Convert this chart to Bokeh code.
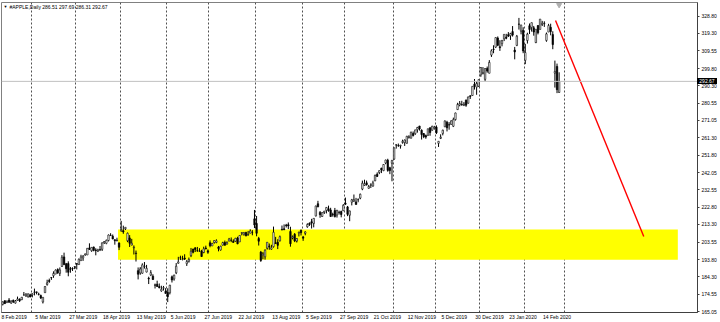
import pandas as pd
from bokeh.plotting import figure
from bokeh.layouts import column
from bokeh.models import FixedTicker, NumeralTickFormatter, Span, Label, Range1d, ColumnDataSource, Div
from bokeh.embed import file_html
from bokeh.resources import INLINE

title_text = "#APPLE,Daily  286.51 297.69 286.31 292.67"
first_day = "2019-02-08"
holidays = ["2019-02-18", "2019-04-19", "2019-05-27", "2019-07-04", "2019-09-02",
            "2019-11-28", "2019-12-25", "2020-01-01", "2020-01-20", "2020-02-17"]

# daily OHLC, one line per month (Feb 2019 from the 8th ... Feb 2020 to the 26th)
open_ = [
    168.99, 171.05, 170.10, 171.39, 169.71, 171.25, 169.71, 171.19, 171.80, 171.58, 174.16, 173.71, 173.21, 174.32,
    174.28, 175.69, 175.94, 174.67, 173.87, 170.32, 175.49, 180.00, 182.25, 183.90, 184.85, 185.80, 188.35, 186.23, 190.02, 195.34, 191.51, 191.66, 188.75, 188.95, 189.83,
    191.64, 191.09, 193.25, 194.79, 196.45, 196.42, 200.32, 198.68, 200.85, 199.20, 198.58, 199.46, 199.54, 203.12, 202.83, 204.43, 207.36, 206.83, 204.90, 204.40, 203.06,
    209.88, 209.84, 210.89, 204.29, 205.88, 201.90, 200.40, 197.42, 187.71, 186.41, 186.27, 189.91, 186.93, 183.52, 185.22, 184.66, 179.80, 180.20, 178.92, 176.42, 177.95, 176.23,
    175.60, 175.44, 184.28, 183.08, 186.51, 191.81, 194.86, 193.95, 194.70, 191.55, 192.90, 196.05, 199.68, 200.37, 198.80, 198.54, 198.43, 197.77, 200.29, 198.68,
    203.17, 201.41, 203.28, 203.35, 200.81, 199.20, 201.85, 203.31, 202.45, 204.09, 204.59, 204.05, 204.00, 205.79, 203.65, 208.46, 207.67, 208.89, 207.48, 208.46, 208.76, 216.42,
    213.90, 205.53, 197.99, 196.31, 195.41, 200.20, 201.30, 199.62, 201.02, 203.16, 203.46, 204.28, 210.62, 210.88, 212.99, 213.19, 209.43, 205.86, 207.86, 204.10, 208.50, 210.16,
    206.43, 208.39, 212.00, 214.05, 214.84, 213.86, 218.07, 224.80, 220.00, 217.73, 219.96, 221.06, 222.01, 221.38, 218.95, 221.03, 218.55, 220.00, 220.54, 220.90,
    225.07, 223.06, 218.43, 225.64, 226.27, 225.82, 227.03, 227.93, 232.95, 234.90, 236.39, 233.37, 235.09, 234.59, 237.52, 241.16, 242.10, 244.51, 243.16, 247.42, 248.97, 244.76, 247.24,
    249.54, 257.33, 257.05, 256.77, 258.74, 258.69, 258.30, 261.55, 261.13, 263.75, 263.68, 265.80, 267.90, 265.54, 263.69, 262.59, 262.71, 266.94, 265.58, 266.60,
    267.27, 258.31, 261.07, 263.79, 267.48, 270.00, 268.60, 268.81, 267.78, 271.46, 277.00, 279.57, 279.80, 279.50, 282.23, 280.53, 284.69, 284.82, 291.12, 289.46, 289.93,
    296.24, 297.15, 293.79, 299.84, 297.16, 307.24, 310.60, 311.64, 316.70, 311.85, 313.59, 316.27, 317.19, 318.58, 317.92, 320.25, 310.06, 312.60, 324.45, 320.54, 320.93,
    304.30, 315.31, 323.52, 322.57, 322.37, 314.18, 323.60, 321.47, 324.19, 324.74, 315.36, 320.00, 322.63, 318.62, 297.26, 300.95, 286.51,
]
high = [
    170.66, 171.21, 171.00, 172.48, 171.26, 171.70, 171.44, 173.32, 172.37, 173.00, 175.87, 175.30, 175.00, 174.91,
    175.15, 177.75, 176.00, 175.49, 174.44, 173.07, 179.12, 182.67, 183.30, 184.10, 187.33, 188.39, 188.99, 189.49, 196.33, 197.69, 191.98, 192.88, 189.76, 189.56, 190.08,
    191.68, 194.46, 196.50, 196.37, 197.10, 200.23, 202.85, 200.74, 201.00, 200.14, 199.85, 201.37, 203.38, 204.15, 204.94, 207.75, 208.48, 207.76, 205.00, 205.97, 203.40,
    215.31, 212.65, 211.84, 208.84, 207.42, 205.34, 201.68, 198.85, 189.48, 189.70, 191.75, 192.47, 190.90, 184.35, 188.00, 185.71, 180.54, 182.14, 180.59, 179.35, 179.23, 177.99,
    177.92, 179.83, 184.99, 185.47, 191.92, 195.37, 196.00, 195.97, 196.79, 193.59, 194.96, 200.29, 199.88, 200.61, 200.85, 200.16, 199.26, 200.99, 201.57, 199.49,
    204.49, 203.13, 204.44, 205.08, 201.40, 201.51, 203.73, 204.39, 204.00, 205.87, 206.11, 205.09, 205.88, 206.50, 207.23, 208.91, 209.15, 209.24, 209.73, 210.64, 210.16, 221.37,
    218.03, 206.43, 198.65, 198.07, 199.56, 203.53, 202.76, 202.05, 212.14, 206.44, 205.14, 207.16, 212.73, 213.35, 213.65, 214.44, 212.05, 207.19, 208.55, 205.72, 209.32, 210.45,
    206.98, 209.48, 213.97, 214.42, 216.44, 216.78, 223.71, 226.42, 220.79, 220.13, 220.82, 222.85, 223.76, 222.56, 219.84, 222.49, 221.50, 220.94, 220.96, 224.58,
    228.22, 223.58, 220.96, 227.49, 229.93, 228.06, 227.79, 230.44, 237.64, 238.13, 237.65, 235.24, 236.15, 237.58, 240.99, 242.20, 243.24, 244.80, 246.73, 249.25, 249.75, 245.30, 249.17,
    255.93, 257.85, 258.19, 257.49, 260.35, 260.44, 262.47, 262.79, 264.78, 264.88, 265.78, 267.43, 268.00, 266.08, 264.01, 263.18, 266.44, 267.16, 267.98, 268.00,
    268.25, 259.53, 263.31, 265.89, 271.00, 270.80, 270.07, 271.10, 272.56, 275.30, 280.79, 281.77, 281.90, 281.18, 282.65, 284.25, 284.89, 289.98, 293.97, 292.69, 293.68,
    300.60, 300.58, 299.96, 300.90, 304.44, 310.43, 312.67, 317.07, 317.57, 315.50, 315.70, 318.74, 319.02, 319.99, 319.56, 323.33, 311.77, 318.40, 327.85, 324.09, 322.68,
    313.49, 319.64, 324.76, 325.22, 323.40, 321.55, 323.90, 327.22, 326.22, 325.98, 319.75, 324.57, 324.65, 320.45, 304.18, 302.53, 297.69,
]
low = [
    168.42, 169.25, 169.70, 169.92, 169.38, 169.75, 169.49, 170.99, 170.30, 171.38, 173.95, 173.17, 172.73, 172.92,
    172.89, 173.97, 174.54, 173.94, 172.02, 169.50, 175.35, 179.37, 180.92, 182.56, 183.74, 185.79, 185.92, 184.73, 189.81, 190.78, 186.60, 184.58, 186.55, 187.53, 188.54,
    188.38, 191.05, 193.15, 193.14, 195.93, 196.34, 199.23, 198.18, 198.44, 196.21, 198.01, 198.56, 198.61, 202.52, 202.34, 203.90, 207.05, 205.12, 202.12, 203.86, 199.11,
    209.23, 208.13, 210.23, 203.50, 200.83, 201.75, 196.66, 192.77, 182.85, 185.41, 186.02, 188.84, 186.76, 180.28, 184.70, 182.55, 177.81, 178.62, 177.91, 176.00, 176.67, 174.99,
    170.27, 174.52, 181.14, 182.15, 185.77, 191.62, 193.60, 193.39, 193.60, 190.30, 192.17, 195.21, 197.31, 198.03, 198.15, 198.17, 195.29, 197.35, 199.57, 197.05,
    200.65, 201.36, 202.69, 202.90, 198.41, 198.81, 201.56, 201.71, 202.20, 204.00, 203.50, 203.27, 203.70, 202.36, 203.61, 207.29, 207.17, 206.73, 207.14, 208.44, 207.31, 211.30,
    206.74, 201.63, 192.58, 194.04, 193.82, 199.39, 199.29, 199.15, 200.48, 202.59, 199.67, 203.84, 210.03, 210.32, 211.60, 210.75, 201.00, 205.06, 203.53, 203.32, 206.66, 207.20,
    204.22, 207.32, 211.51, 212.51, 211.07, 211.71, 217.73, 222.86, 217.02, 217.56, 219.12, 219.44, 220.37, 217.47, 217.65, 217.19, 217.14, 218.83, 217.28, 220.79,
    224.20, 217.93, 215.13, 223.89, 225.84, 224.33, 225.64, 227.30, 232.31, 234.67, 234.88, 233.20, 233.52, 234.29, 237.32, 239.62, 241.22, 241.81, 242.88, 246.72, 242.57, 241.21, 237.26,
    249.16, 255.38, 256.32, 255.37, 258.11, 256.85, 258.28, 260.92, 261.07, 262.10, 263.01, 264.23, 265.39, 260.40, 261.18, 260.84, 262.52, 262.50, 265.31, 265.90,
    263.45, 256.29, 260.68, 262.73, 267.30, 264.91, 265.86, 268.50, 267.32, 270.93, 276.98, 278.80, 279.12, 278.95, 278.56, 280.37, 282.92, 284.70, 288.12, 285.22, 289.52,
    295.19, 296.50, 292.75, 297.48, 297.16, 306.20, 308.25, 311.15, 312.17, 309.55, 312.09, 315.00, 316.00, 317.31, 315.65, 317.52, 304.88, 312.19, 321.38, 318.75, 308.29,
    302.22, 313.63, 318.95, 320.26, 318.00, 313.85, 318.71, 321.47, 323.35, 322.85, 314.61, 320.00, 318.21, 310.50, 289.23, 286.13, 286.31,
]
close = [
    170.41, 169.43, 170.89, 170.18, 170.80, 170.42, 170.93, 172.03, 171.06, 172.97, 174.23, 174.33, 174.87, 173.15,
    174.97, 175.85, 175.53, 174.52, 172.50, 172.91, 178.90, 180.91, 181.71, 183.73, 186.12, 188.02, 186.53, 188.16, 195.09, 191.05, 188.74, 186.79, 188.47, 188.72, 189.95,
    191.24, 194.02, 195.35, 195.69, 197.00, 200.10, 199.50, 200.62, 198.95, 198.87, 199.23, 199.25, 203.13, 203.86, 204.53, 207.48, 207.16, 205.28, 204.30, 204.61, 200.67,
    210.52, 209.15, 211.75, 208.48, 202.86, 202.90, 200.72, 197.18, 185.72, 188.66, 190.92, 190.08, 189.00, 183.09, 186.60, 182.78, 179.66, 178.97, 178.23, 177.38, 178.30, 175.07,
    173.30, 179.64, 182.54, 185.22, 190.15, 192.58, 194.81, 194.19, 194.15, 192.74, 193.89, 198.45, 197.87, 199.46, 198.78, 198.58, 195.57, 199.80, 199.74, 197.92,
    201.55, 202.73, 204.41, 204.23, 200.02, 201.24, 203.23, 201.75, 203.30, 205.21, 204.50, 203.35, 205.66, 202.59, 207.22, 208.84, 208.67, 207.02, 207.74, 209.68, 208.78, 213.04,
    208.43, 204.02, 193.34, 197.00, 199.04, 203.43, 200.99, 200.48, 208.97, 202.75, 201.74, 206.50, 210.35, 210.36, 212.64, 212.46, 202.64, 206.49, 204.16, 205.53, 209.01, 208.74,
    205.70, 209.19, 213.28, 213.26, 214.17, 216.70, 223.59, 223.09, 218.75, 219.90, 220.70, 222.77, 220.96, 217.73, 218.72, 217.68, 221.03, 219.89, 218.82, 223.97,
    224.59, 218.96, 220.82, 227.01, 227.06, 224.40, 227.03, 230.09, 236.21, 235.87, 235.32, 234.37, 235.28, 236.41, 240.51, 239.96, 243.18, 243.58, 246.58, 249.05, 243.29, 243.26, 248.76,
    255.82, 257.50, 257.13, 257.24, 259.43, 260.14, 262.20, 261.96, 264.47, 262.64, 265.76, 267.10, 266.29, 263.19, 262.01, 261.78, 266.37, 264.29, 267.84, 267.25,
    264.16, 259.45, 261.74, 265.58, 270.71, 266.92, 268.48, 270.77, 271.46, 275.15, 279.86, 280.41, 279.74, 280.02, 279.44, 284.00, 284.27, 289.91, 289.80, 291.52, 293.65,
    300.35, 297.43, 299.80, 298.39, 303.19, 309.63, 310.33, 316.96, 312.68, 311.34, 315.24, 318.73, 316.57, 317.70, 319.23, 318.31, 308.95, 317.69, 324.34, 323.87, 309.51,
    308.66, 318.85, 321.45, 325.21, 320.03, 321.55, 319.61, 327.20, 324.87, 324.95, 319.00, 323.62, 320.30, 313.05, 298.18, 288.08, 292.67,
]

date_labels = ["8 Feb 2019", "5 Mar 2019", "27 Mar 2019", "18 Apr 2019", "13 May 2019", "5 Jun 2019",
               "27 Jun 2019", "22 Jul 2019", "13 Aug 2019", "5 Sep 2019", "27 Sep 2019", "21 Oct 2019",
               "12 Nov 2019", "5 Dec 2019", "30 Dec 2019", "23 Jan 2020", "14 Feb 2020"]
price_ticks = [328.80, 319.30, 309.55, 299.80, 290.30, 280.55, 271.05, 261.30, 251.80, 242.05,
               232.55, 222.80, 213.30, 203.55, 193.80, 184.30, 174.55, 165.05]
last_price = 292.67

# drawn objects (bar-index / price coordinates)
zone_left, zone_right = 54.5, 319.1
zone_low, zone_high = 193.7, 210.5
trend_x = [261.3, 303.0]
trend_y = [326.4, 206.6]

# ---- calendar -> bar index
cal = pd.bdate_range(first_day, "2020-03-02")
cal = cal[~cal.isin(pd.to_datetime(holidays))]
dates = cal[:len(close)]
assert len(dates) == len(close) == len(open_) == len(high) == len(low)
assert dates[-1] == pd.Timestamp("2020-02-26")
idx = list(range(len(close)))

FONT = "Liberation Sans"
FONT_PX = 5.0
X0, X1 = -0.57, 328.4
Y0, Y1 = 164.5, 336.4
W, H = 720, 322
BL, BR, BT, BB = 1, 23, 2, 10
px_per_bar = (W - BL - BR) / (X1 - X0)
px_per_price = (H - BT - BB) / (Y1 - Y0)

# Arial/Liberation advance widths (1/1000 em) -> label widths, so that the
# centred axis labels start at their bar, as on the MetaTrader time scale
ADV = {" ": 278, "A": 667, "D": 722, "F": 611, "J": 500, "M": 833, "N": 722, "O": 778, "S": 667,
       "a": 556, "b": 556, "c": 500, "e": 556, "g": 556, "l": 222, "n": 556, "o": 556, "p": 556,
       "r": 333, "t": 278, "u": 556, "v": 500, "y": 500}


def text_px(s):
    return sum(ADV.get(ch, 556) for ch in s) * FONT_PX / 1000.0


label_pos = [round(dates.get_loc(pd.to_datetime(s)) - 0.6 + text_px(s) / 2 / px_per_bar, 3)
             for s in date_labels]
grid_pos = [i - 0.5 for i in range(1, len(cal)) if cal[i].month != cal[i - 1].month]

up = [c >= o for o, c in zip(open_, close)]
src = ColumnDataSource(dict(
    x=idx, o=open_, h=high, l=low, c=close,
    top=[max(o, c) for o, c in zip(open_, close)],
    bot=[min(o, c) for o, c in zip(open_, close)],
    fill=["white" if u else "black" for u in up],
))

p = figure(width=W, height=H, output_backend="svg", toolbar_location=None,
           x_range=Range1d(X0, X1), y_range=Range1d(Y0, Y1),
           y_axis_location="right",
           min_border_left=BL, min_border_right=BR, min_border_top=BT, min_border_bottom=BB,
           background_fill_color="white", border_fill_color="white",
           outline_line_color="#808080", outline_line_width=1)

# grid
p.ygrid.visible = False
p.xgrid.ticker = FixedTicker(ticks=grid_pos)
p.xgrid.grid_line_color = "#505050"
p.xgrid.grid_line_dash = "2 2"
p.xgrid.grid_line_width = 1

# yellow zone (background object)
p.quad(left=[zone_left], right=[zone_right], bottom=[zone_low], top=[zone_high],
       fill_color="#ffff00", line_color=None)

# current price line
p.add_layout(Span(location=last_price, dimension="width", line_color="#c0c0c0", line_width=1))

# candles
p.segment(x0="x", y0="h", x1="x", y1="l", source=src, line_color="black", line_width=1)
p.vbar(x="x", width=0.7, top="top", bottom="bot", source=src,
       fill_color="fill", line_color="black", line_width=0.6)

# red trend line
p.line(trend_x, trend_y, line_color="#ff0000", line_width=1.4)

# small shift marker at the top, above the last bar
p.scatter([idx[-1]], [Y1 - 2.5 / px_per_price], marker="inverted_triangle", size=5,
          fill_color="#b0b0b0", line_color="#b0b0b0")

# axes
xa = p.xaxis[0]
xa.ticker = FixedTicker(ticks=label_pos)
xa.major_label_overrides = {pos: s for pos, s in zip(label_pos, date_labels)}
xa.major_label_text_font = FONT
xa.major_label_text_font_size = f"{FONT_PX}px"
xa.major_label_text_color = "black"
xa.major_label_standoff = 1
xa.major_tick_out = 0
xa.major_tick_in = 0
xa.minor_tick_out = 0
xa.minor_tick_in = 0
xa.axis_line_color = "#404040"

ya = p.yaxis[0]
ya.ticker = FixedTicker(ticks=price_ticks)
ya.formatter = NumeralTickFormatter(format="0.00")
ya.major_label_text_font = FONT
ya.major_label_text_font_size = f"{FONT_PX}px"
ya.major_label_text_color = "black"
ya.major_label_standoff = 2
ya.major_tick_out = 2
ya.major_tick_in = 0
ya.minor_tick_out = 0
ya.minor_tick_in = 0
ya.axis_line_color = "#404040"
ya.major_tick_line_color = "#404040"

# header text
p.add_layout(Label(x=2, y=306, x_units="screen", y_units="screen", text="\u25BC",
                   text_font=FONT, text_font_size="4px", text_color="black",
                   text_baseline="middle", text_align="left"))
p.add_layout(Label(x=8, y=306, x_units="screen", y_units="screen", text=title_text,
                   text_font=FONT, text_font_size=f"{FONT_PX}px", text_color="black",
                   text_baseline="middle", text_align="left"))

# last price tag sitting on the price scale (outside the plot frame)
tag_top = BT + (Y1 - last_price) * px_per_price - 3
tag_left = W - BR
tag = Div(
    text=(f'<div style="position:fixed;left:{tag_left:.0f}px;top:{tag_top:.1f}px;width:20px;height:6px;'
          f'line-height:6px;background:#000;color:#fff;font-family:\'{FONT}\';font-size:{FONT_PX}px;'
          f'text-align:center;white-space:nowrap;z-index:10;">{last_price:.2f}</div>'),
    width=0, height=0, margin=0)

open("out.html", "w").write(file_html(column(p, tag, spacing=0), INLINE))
